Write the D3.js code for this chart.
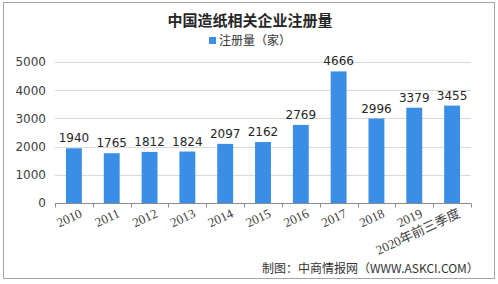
<!DOCTYPE html>
<html>
<head>
<meta charset="utf-8">
<script src="https://cdn.jsdelivr.net/npm/d3@7"></script>
<style>
  body { margin: 0; background: #fff; }
  svg text { font-family: "Noto Sans CJK SC", "DejaVu Sans", sans-serif; }
</style>
</head>
<body>
<div id="chart"></div>
<script>
// chart data
const years = ['2010', '2011', '2012', '2013', '2014', '2015', '2016', '2017', '2018', '2019', '2020年前三季度'];
const counts = [1940, 1765, 1812, 1824, 2097, 2162, 2769, 4666, 2996, 3379, 3455];
const yTicks = [0, 1000, 2000, 3000, 4000, 5000];
const title = '中国造纸相关企业注册量';
const seriesName = '注册量（家）';
const source = '制图：中商情报网（WWW.ASKCI.COM）';

const width = 498, height = 284;
const margin = { top: 62, right: 27, bottom: 81, left: 55 };
const barColor = '#3a8ee6';

const svg = d3.select('#chart').append('svg')
  .attr('width', width)
  .attr('height', height);

// outer frame
svg.append('rect')
  .attr('x', 3.5).attr('y', 2.5)
  .attr('width', 491).attr('height', 276)
  .attr('fill', 'none')
  .attr('stroke', '#a6a6a6');

const innerW = width - margin.left - margin.right;
const innerH = height - margin.top - margin.bottom;

const chart = svg.append('g')
  .attr('transform', `translate(${margin.left},${margin.top})`);

const data = years.map((y, i) => ({ year: y, value: counts[i] }));

const xScale = d3.scaleBand()
  .domain(years)
  .range([0, innerW])
  .paddingInner(0.58)
  .paddingOuter(0.29);

const yScale = d3.scaleLinear()
  .domain([0, 5000])
  .range([innerH, 0]);

// gridlines
chart.append('g')
  .selectAll('line')
  .data(yTicks.filter(d => d > 0))
  .join('line')
  .attr('x1', 0).attr('x2', innerW)
  .attr('y1', d => Math.round(yScale(d)) + 0.5)
  .attr('y2', d => Math.round(yScale(d)) + 0.5)
  .attr('stroke', '#d9d9d9');

// y axis labels
const yAxis = d3.axisLeft(yScale)
  .tickValues(yTicks)
  .tickFormat(d3.format('d'))
  .tickSize(0)
  .tickPadding(9);
const yAxisGroup = chart.append('g').call(yAxis);
yAxisGroup.select('.domain').remove();
yAxisGroup.selectAll('text')
  .attr('font-size', 12)
  .attr('fill', '#404040')
  .style('font-family', '"DejaVu Sans", sans-serif');

// bars
chart.selectAll('.bar')
  .data(data)
  .join('rect')
  .attr('class', 'bar')
  .attr('x', d => xScale(d.year))
  .attr('y', d => yScale(d.value))
  .attr('width', xScale.bandwidth())
  .attr('height', d => innerH - yScale(d.value))
  .attr('fill', barColor);

// value labels
chart.selectAll('.val')
  .data(data)
  .join('text')
  .attr('class', 'val')
  .attr('x', d => xScale(d.year) + xScale.bandwidth() / 2)
  .attr('y', d => yScale(d.value) - 6)
  .attr('text-anchor', 'middle')
  .attr('font-size', 12)
  .attr('fill', '#262626')
  .style('font-family', '"DejaVu Sans", sans-serif')
  .text(d => d.value);

// x axis line with ticks at band edges
const step = xScale.step();
const xAxisGroup = chart.append('g')
  .attr('transform', `translate(0,${innerH + 0.5})`);
xAxisGroup.append('line')
  .attr('x1', 0).attr('x2', innerW)
  .attr('stroke', '#8c8c8c');
xAxisGroup.selectAll('.tick-mark')
  .data(d3.range(years.length + 1))
  .join('line')
  .attr('class', 'tick-mark')
  .attr('x1', i => Math.round(i * step) + 0.5)
  .attr('x2', i => Math.round(i * step) + 0.5)
  .attr('y1', 0).attr('y2', 4)
  .attr('stroke', '#8c8c8c');

// rotated x labels
xAxisGroup.selectAll('.xlab')
  .data(years)
  .join('text')
  .attr('class', 'xlab')
  .attr('text-anchor', 'end')
  .attr('font-size', 13)
  .attr('fill', '#404040')
  .style('font-family', '"Liberation Serif", "Noto Sans CJK SC", serif')
  .attr('transform', d => `translate(${xScale(d) + xScale.bandwidth() / 2 + 9},${13}) rotate(-25)`)
  .text(d => d);

// title
svg.append('text')
  .attr('x', 250).attr('y', 26)
  .attr('text-anchor', 'middle')
  .attr('font-size', 15)
  .attr('font-weight', 'bold')
  .attr('fill', '#262626')
  .text(title);

// legend
svg.append('rect')
  .attr('x', 209).attr('y', 37)
  .attr('width', 7).attr('height', 7)
  .attr('fill', barColor);
svg.append('text')
  .attr('x', 219).attr('y', 45)
  .attr('font-size', 12)
  .attr('fill', '#333')
  .text(seriesName);

// source note
svg.append('text')
  .attr('x', 262).attr('y', 273)
  .attr('font-size', 12)
  .attr('fill', '#333')
  .text(source);
</script>
</body>
</html>
